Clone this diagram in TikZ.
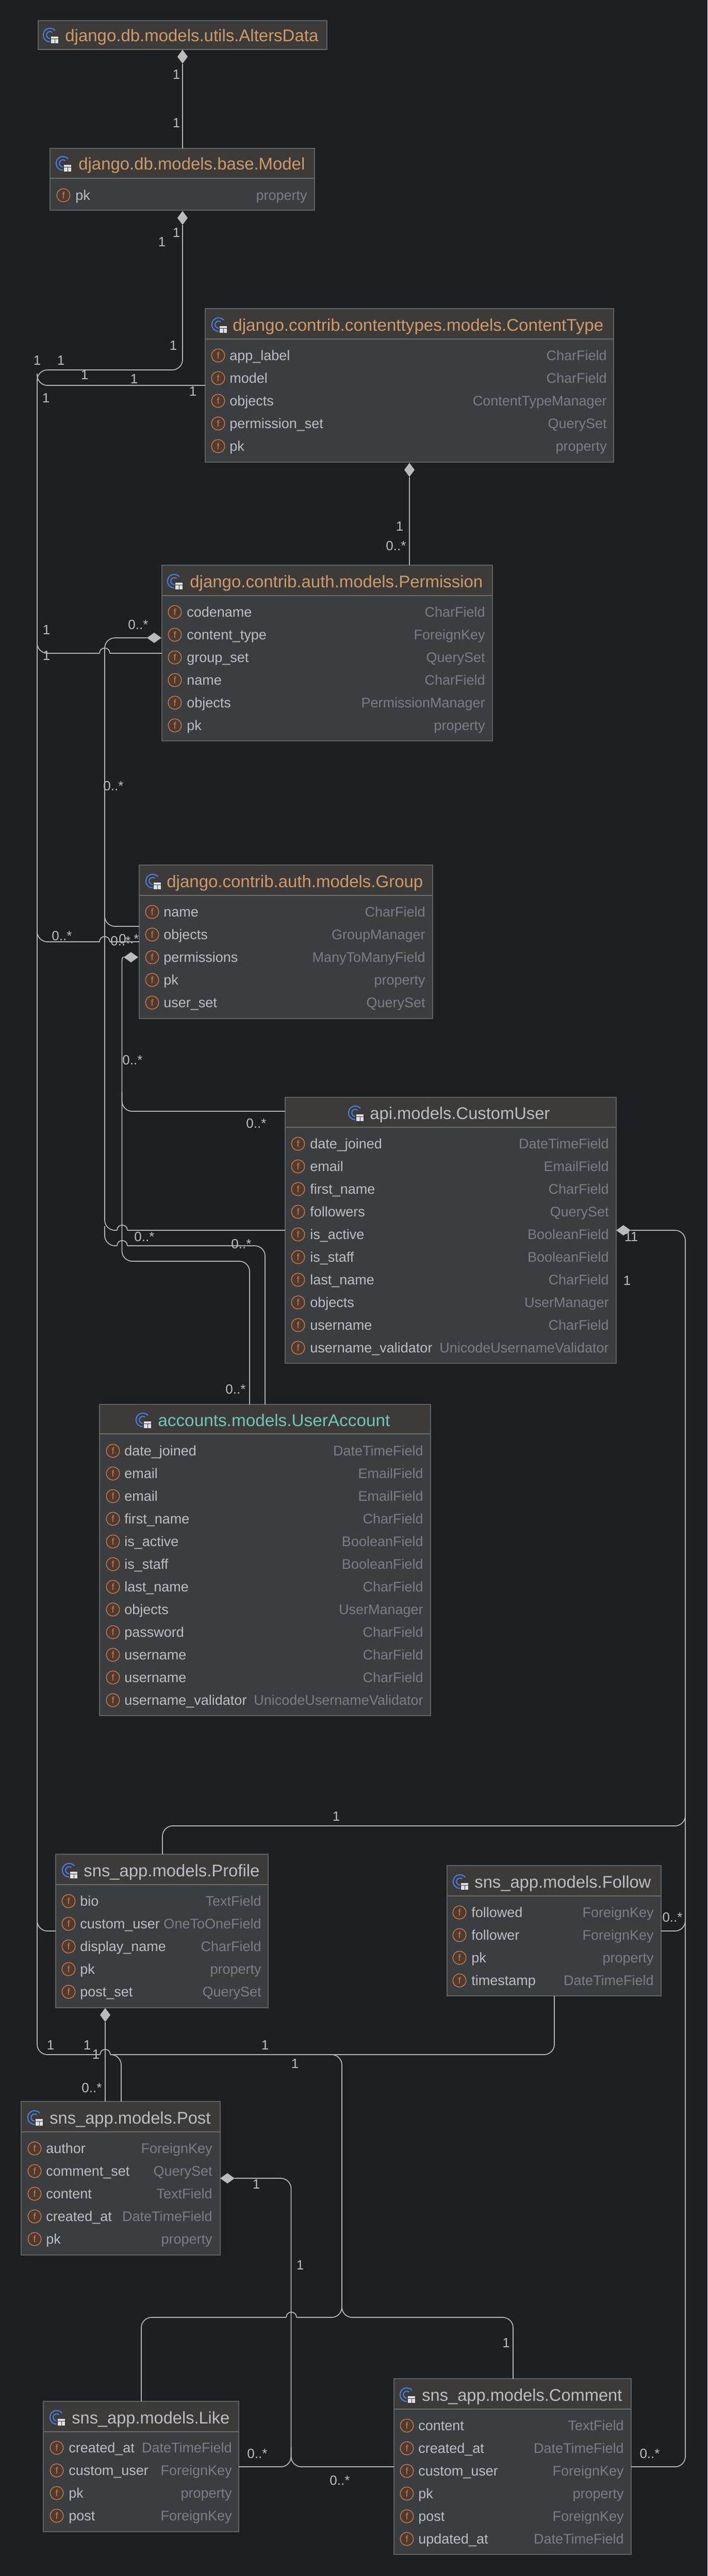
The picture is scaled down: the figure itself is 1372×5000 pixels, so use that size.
\documentclass[tikz,border=0pt]{standalone}
\usepackage{fontspec}
\usepackage{graphicx}
\setmainfont{Liberation Sans}
\usetikzlibrary{shapes.geometric}
\definecolor{bgc}{HTML}{1E1F22}
\definecolor{hdrc}{HTML}{3C3B3A}
\definecolor{bodyc}{HTML}{3B3E41}
\definecolor{edgec}{HTML}{5F6163}
\definecolor{divc}{HTML}{6C6C6C}
\definecolor{linec}{HTML}{B4B5B6}
\definecolor{dmc}{HTML}{BBBBBB}
\definecolor{namec}{HTML}{BCBEC4}
\definecolor{typec}{HTML}{7A7E85}
\definecolor{orangec}{HTML}{CF9A69}
\definecolor{tealc}{HTML}{6FC7B9}
\definecolor{fstroke}{HTML}{C77D4F}
\definecolor{ffill}{HTML}{503A2E}
\definecolor{bluec}{HTML}{4A80EA}
\definecolor{tablec}{HTML}{DFE1E5}
\newcount\nc
\newsavebox\ttlbox
\newcommand\nx{\global\advance\nc by 1 }
\tikzset{
  boxbody/.style={draw=edgec,fill=bodyc,line width=.8pt,inner sep=0pt,outer sep=0pt},
  titletext/.style={inner sep=0pt,anchor=base west},
  nametext/.style={inner sep=0pt,anchor=base west,text=namec,font=\fontsize{13.5}{16}\selectfont},
  typetext/.style={inner sep=0pt,anchor=base east,text=typec,font=\fontsize{13.5}{16}\selectfont},
  ficon/.style={circle,draw=fstroke,fill=ffill,line width=.7pt,minimum size=12.8pt,inner sep=0pt,text=fstroke,font=\fontsize{9}{10}\selectfont},
  conn/.style={draw=linec,line width=.9pt,rounded corners=10pt},
  plainconn/.style={draw=linec,line width=.9pt},
  dmh/.style={diamond,fill=dmc,inner sep=0pt,outer sep=0pt,minimum width=14pt,minimum height=10pt,aspect=1.4},
  dmv/.style={diamond,fill=dmc,inner sep=0pt,outer sep=0pt,minimum width=10pt,minimum height=13.5pt,aspect=.74},
  mult/.style={inner sep=0pt,text=namec,font=\fontsize{13}{15}\selectfont}
}
% id x1 y1 x2 y2 header-bottom
\newcommand\umlbox[6]{%
  \node[boxbody,minimum width={(#4-#2)*0.5pt},minimum height={(#5-#3)*0.5pt}] (#1) at ({(#2+#4)/2},{(#3+#5)/2}) {};
  \fill[hdrc] ({#2+1},{#3+1}) rectangle ({#4-1},#6);
  \draw[divc,line width=1pt] ({#2+1},#6) -- ({#4-1},#6);
}
% icon x, title x, y, colour, text, width in px
\newcommand\ttl[6]{%
  \begin{scope}[shift={(#1,#3)}]
    \draw[bluec,line width=1pt] (40:6.6pt) arc[start angle=40,end angle=320,radius=6.6pt];
    \draw[bluec,line width=1pt] (50:3.4pt) arc[start angle=50,end angle=310,radius=3.4pt];
    \fill[hdrc] (0,1) rectangle (18,18);
    \fill[tablec] (2,3) rectangle (16,16);
    \draw[hdrc,line width=.5pt] (2,7) -- (16,7) (9,7) -- (9,16);
  \end{scope}
  \nx\node[titletext,text=#4] (t\the\nc) at (#2,{#3+12}) {%
    \sbox\ttlbox{\fontsize{16.4}{18}\selectfont #5}%
    \pgfmathsetmacro\ttlfac{#6*0.5/(\wd\ttlbox)}%
    \scalebox{\ttlfac}[1]{\usebox\ttlbox}};
}
\newcommand\cols[3]{\def\fix{#1}\def\ftx{#2}\def\frx{#3}}
\newcommand\rw[3]{%
  \nx\node[ficon] (i\the\nc) at (\fix,#1) {f};
  \node[nametext] (n\the\nc) at (\ftx,{#1+9.5}) {#2};
  \node[typetext] (y\the\nc) at (\frx,{#1+9.5}) {#3};
}
\newcommand\lbl[3]{\nx\node[mult] (m\the\nc) at (#1,#2) {#3};}
\newcommand\hop[2]{\draw[plainconn] ({#1-10},#2) .. controls ({#1-10},{#2-13.5}) and ({#1+10},{#2-13.5}) .. ({#1+10},#2);}
\begin{document}
\begin{tikzpicture}[x=0.5pt,y=-0.5pt]
\fill[bgc] (0,0) rectangle (1372,5000);
\useasboundingbox (0,0) rectangle (1372,5000);

% ---------- boxes ----------
\umlbox{alters}{74}{40}{634}{96}{96}
\ttl{97}{126}{68}{orangec}{django.db.models.utils.AltersData}{491}

\umlbox{model}{97}{288}{610}{408}{346}
\ttl{122}{152}{317}{orangec}{django.db.models.base.Model}{439}
\cols{123}{146}{596}
\rw{379}{pk}{property}

\umlbox{ct}{398}{599}{1190}{897}{658}
\ttl{424}{451}{630}{orangec}{django.contrib.contenttypes.models.ContentType}{719}
\cols{423}{445}{1177}
\rw{690}{app\_label}{CharField}
\rw{734}{model}{CharField}
\rw{778}{objects}{ContentTypeManager}
\rw{822}{permission\_set}{QuerySet}
\rw{866}{pk}{property}

\umlbox{perm}{314}{1097}{955}{1438}{1156}
\ttl{338}{368}{1128}{orangec}{django.contrib.auth.models.Permission}{568}
\cols{339}{362}{941}
\rw{1188}{codename}{CharField}
\rw{1232}{content\_type}{ForeignKey}
\rw{1276}{group\_set}{QuerySet}
\rw{1320}{name}{CharField}
\rw{1364}{objects}{PermissionManager}
\rw{1408}{pk}{property}

\umlbox{group}{270}{1679}{839}{1977}{1738}
\ttl{296}{323}{1710}{orangec}{django.contrib.auth.models.Group}{497}
\cols{295}{317}{825}
\rw{1770}{name}{CharField}
\rw{1814}{objects}{GroupManager}
\rw{1858}{permissions}{ManyToManyField}
\rw{1902}{pk}{property}
\rw{1946}{user\_set}{QuerySet}

\umlbox{cu}{553}{2130}{1195}{2646}{2188}
\ttl{689}{717}{2160}{namec}{api.models.CustomUser}{349}
\cols{578}{601}{1181}
\rw{2220}{date\_joined}{DateTimeField}
\rw{2264}{email}{EmailField}
\rw{2308}{first\_name}{CharField}
\rw{2352}{followers}{QuerySet}
\rw{2396}{is\_active}{BooleanField}
\rw{2440}{is\_staff}{BooleanField}
\rw{2484}{last\_name}{CharField}
\rw{2528}{objects}{UserManager}
\rw{2572}{username}{CharField}
\rw{2616}{username\_validator}{UnicodeUsernameValidator}

\umlbox{ua}{193}{2726}{835}{3330}{2783}
\ttl{277}{306}{2756}{tealc}{accounts.models.UserAccount}{450}
\cols{219}{241}{821}
\rw{2816}{date\_joined}{DateTimeField}
\rw{2860}{email}{EmailField}
\rw{2904}{email}{EmailField}
\rw{2948}{first\_name}{CharField}
\rw{2992}{is\_active}{BooleanField}
\rw{3036}{is\_staff}{BooleanField}
\rw{3080}{last\_name}{CharField}
\rw{3124}{objects}{UserManager}
\rw{3168}{password}{CharField}
\rw{3212}{username}{CharField}
\rw{3256}{username}{CharField}
\rw{3300}{username\_validator}{UnicodeUsernameValidator}

\umlbox{profile}{108}{3599}{520}{3897}{3658}
\ttl{134}{162}{3630}{namec}{sns\_app.models.Profile}{341}
\cols{133}{155}{507}
\rw{3690}{bio}{TextField}
\rw{3734}{custom\_user}{OneToOneField}
\rw{3778}{display\_name}{CharField}
\rw{3822}{pk}{property}
\rw{3866}{post\_set}{QuerySet}

\umlbox{follow}{867}{3621}{1282}{3874}{3680}
\ttl{892}{920}{3652}{namec}{sns\_app.models.Follow}{342}
\cols{891}{914}{1268}
\rw{3712}{followed}{ForeignKey}
\rw{3756}{follower}{ForeignKey}
\rw{3800}{pk}{property}
\rw{3844}{timestamp}{DateTimeField}

\umlbox{post}{41}{4079}{427}{4377}{4138}
\ttl{67}{96}{4110}{namec}{sns\_app.models.Post}{312}
\cols{67}{89}{412}
\rw{4170}{author}{ForeignKey}
\rw{4214}{comment\_set}{QuerySet}
\rw{4258}{content}{TextField}
\rw{4302}{created\_at}{DateTimeField}
\rw{4346}{pk}{property}

\umlbox{like}{84}{4661}{463}{4914}{4720}
\ttl{110}{139}{4692}{namec}{sns\_app.models.Like}{306}
\cols{110}{133}{450}
\rw{4751}{created\_at}{DateTimeField}
\rw{4795}{custom\_user}{ForeignKey}
\rw{4839}{pk}{property}
\rw{4883}{post}{ForeignKey}

\umlbox{comment}{764}{4617}{1224}{4958}{4676}
\ttl{789}{818}{4648}{namec}{sns\_app.models.Comment}{388}
\cols{789}{811}{1210}
\rw{4708}{content}{TextField}
\rw{4752}{created\_at}{DateTimeField}
\rw{4796}{custom\_user}{ForeignKey}
\rw{4840}{pk}{property}
\rw{4884}{post}{ForeignKey}
\rw{4928}{updated\_at}{DateTimeField}

% ---------- diamonds ----------
\node[dmv] (dalters) at (354,110) {};
\node[dmv] (dmodel) at (354,423) {};
\node[dmv] (dct) at (794,912) {};
\node[dmh] (dperm) at (299,1238) {};
\node[dmh] (dgroup) at (254,1858) {};
\node[dmh] (dcu) at (1209,2388) {};
\node[dmv] (dprofile) at (204,3911) {};
\node[dmh] (dpost) at (441,4228) {};

% ---------- connectors ----------
\draw[plainconn] (dalters.south) -- (model.north -| dalters.south);
\draw[conn] (dmodel.south) -- (354,718) -- (72,718) -- (72,3988) -- (194,3988);
\hop{204}{3988}
\draw[conn] (214,3988) -- (235,3988) -- (post.north -| 235,0);
\draw[conn] (214,3988) -- (1075,3988) -- (follow.south -| 1075,0);
\draw[conn] (630,3988) -- (663,3988) -- (663,4498) -- (575,4498);
\hop{565}{4498}
\draw[conn] (555,4498) -- (274,4498) -- (like.north -| 274,0);
\draw[conn] (663,4460) -- (663,4498) -- (995,4498) -- (comment.north -| 995,0);
\draw[conn] (ct.west |- 0,748) -- (72,748) -- (72,725);
\draw[conn] (72,1230) -- (72,1268) -- (193,1268);
\hop{203}{1268}
\draw[plainconn] (213,1268) -- (perm.west |- 0,1268);
\draw[conn] (72,1790) -- (72,1828) -- (193,1828);
\hop{203}{1828}
\draw[plainconn] (213,1828) -- (group.west |- 0,1828);
\draw[conn] (72,3710) -- (72,3748) -- (profile.west |- 0,3748);

\draw[plainconn] (dct.south) -- (perm.north -| dct.south);

\draw[conn] (dperm.west) -- (203,1238) -- (203,2388) -- (227,2388);
\hop{237}{2388}
\draw[plainconn] (247,2388) -- (cu.west |- 0,2388);
\draw[conn] (203,1760) -- (203,1798) -- (group.west |- 0,1798);
\draw[conn] (203,2380) -- (203,2418) -- (227,2418);
\hop{237}{2418}
\draw[conn] (247,2418) -- (514,2418) -- (ua.north -| 514,0);

\draw[plainconn] (dgroup.west) .. controls (236.5,1858) .. (236.5,1880);
\draw[conn] (236.5,1880) -- (236.5,2448) -- (484,2448) -- (ua.north -| 484,0);
\draw[conn] (236.5,2120) -- (236.5,2157) -- (cu.west |- 0,2157);

\draw[conn] (dcu.east) -- (1329,2388) -- (1329,3544) -- (315,3544) -- (profile.north -| 315,0);
\draw[conn] (1329,3510) -- (1329,3748) -- (follow.east |- 0,3748);
\draw[conn] (1329,3700) -- (1329,4788) -- (comment.east |- 0,4788);

\draw[plainconn] (dprofile.south) -- (post.north -| dprofile.south);

\draw[conn] (dpost.east) -- (564.5,4228) -- (564.5,4788) -- (like.east |- 0,4788);
\draw[conn] (564.5,4750) -- (564.5,4788) -- (comment.west |- 0,4788);

% ---------- multiplicities ----------
\lbl{342}{145}{1}
\lbl{342}{239}{1}
\lbl{342}{452}{1}
\lbl{314}{470}{1}
\lbl{336}{671}{1}
\lbl{72}{700}{1}
\lbl{118}{700}{1}
\lbl{164}{728}{1}
\lbl{260}{736}{1}
\lbl{374}{760}{1}
\lbl{89}{773}{1}
\lbl{775}{1022}{1}
\lbl{768}{1060}{0..*}
\lbl{90}{1223}{1}
\lbl{90}{1273}{1}
\lbl{268}{1213}{0..*}
\lbl{220}{1526}{0..*}
\lbl{120}{1817}{0..*}
\lbl{234}{1827}{0..*}
\lbl{250}{1823}{0..*}
\lbl{257}{2058}{0..*}
\lbl{497}{2181}{0..*}
\lbl{280}{2401}{0..*}
\lbl{468}{2415}{0..*}
\lbl{457}{2697}{0..*}
\lbl{1218}{2401}{1}
\lbl{1230}{2401}{1}
\lbl{1216}{2486}{1}
\lbl{652}{3526}{1}
\lbl{1304}{3722}{0..*}
\lbl{98}{3970}{1}
\lbl{169}{3970}{1}
\lbl{186}{3988}{1}
\lbl{514}{3970}{1}
\lbl{572}{4006}{1}
\lbl{178}{4052}{0..*}
\lbl{497}{4240}{1}
\lbl{582}{4396}{1}
\lbl{499}{4762}{0..*}
\lbl{659}{4814}{0..*}
\lbl{981.5}{4547}{1}
\lbl{1260}{4762}{0..*}
\end{tikzpicture}
\end{document}
